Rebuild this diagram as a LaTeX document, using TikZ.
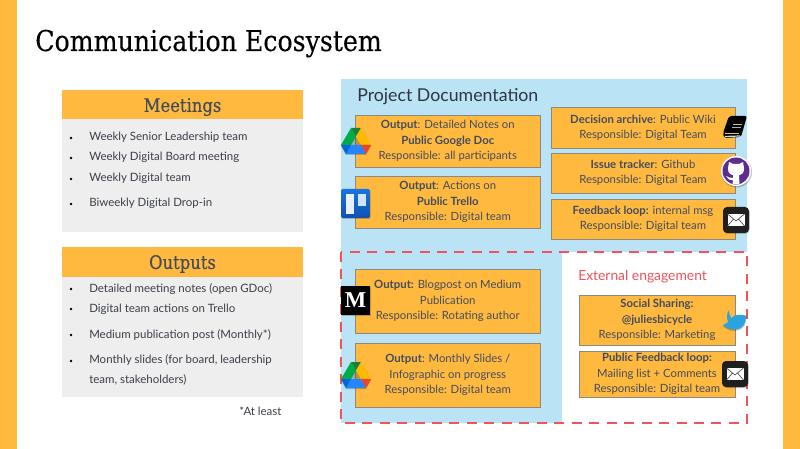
\documentclass[tikz,border=0pt]{standalone}
\usepackage{fontspec}
\setmainfont{Lato}
\newfontfamily\slabfont[FakeStretch=0.88,FakeBold=0.25]{DejaVu Serif}
\newfontfamily\mfont{Liberation Serif}
\definecolor{band}{HTML}{FFB93F}
\definecolor{panel}{HTML}{BAE3F5}
\definecolor{greybg}{HTML}{EEEEEE}
\definecolor{ink}{HTML}{434C5E}
\definecolor{bodyink}{HTML}{3A3F47}
\definecolor{redd}{HTML}{F0535A}
\definecolor{edgeg}{HTML}{8C8A80}
\definecolor{gdA}{HTML}{188038}
\definecolor{gdB}{HTML}{00AC47}
\definecolor{gdC}{HTML}{FFBA00}
\definecolor{gdD}{HTML}{2684FC}
\definecolor{gdE}{HTML}{EA4335}
\definecolor{gdF}{HTML}{0066DA}
\definecolor{trA}{HTML}{1A73E0}
\definecolor{trB}{HTML}{0F52B0}
\definecolor{bookb}{HTML}{7FB8E0}
\definecolor{ghp}{HTML}{5C2D91}
\definecolor{twb}{HTML}{2AA3E0}
\tikzset{
  obox/.style={draw=edgeg,fill=band,line width=0.7pt,inner sep=0pt,align=center,text=ink,
    font=\fontsize{8.5}{11.5}\selectfont},
  head/.style={fill=band,inner sep=0pt,text=ink,text depth=0pt,font=\slabfont\fontsize{14}{16}\selectfont},
  grey/.style={fill=greybg,inner sep=0pt},
  litem/.style={anchor=base west,inner sep=0pt,text=bodyink,font=\fontsize{8.6}{11}\selectfont},
  bul/.style={circle,fill=black,inner sep=0pt,minimum size=2pt},
  icsh/.style={fill=black,opacity=.22},
}
\newcommand{\rbox}[6]{\node[obox,minimum width={(#4-#2)*0.75pt},minimum height={(#5-#3)*0.75pt}] (#1) at ({(#2+#4)/2},{(#3+#5)/2}) {#6};}
\newcommand{\gdrive}[2]{\begin{scope}[shift={(#1,#2)}]
  \fill[icsh] (10,1)--(20,1)--(30,18)--(25,27)--(5,27)--(0,18)--cycle;
  \fill[gdA] (10,0)--(20,0)--(15,8.5)--cycle;
  \fill[gdB] (10,0)--(15,8.5)--(10,17)--(0,17)--cycle;
  \fill[gdC] (20,0)--(30,17)--(20,17)--(15,8.5)--cycle;
  \fill[gdD] (5,26)--(25,26)--(20,17)--(10,17)--cycle;
  \fill[gdE] (20,17)--(30,17)--(25,26)--cycle;
  \fill[gdF] (0,17)--(10,17)--(5,26)--cycle;
\end{scope}}
\newcommand{\mailicon}[2]{\begin{scope}[shift={(#1,#2)}]
  \fill[icsh,rounded corners=3pt] (0.5,1) rectangle (26.5,27);
  \fill[black!88,rounded corners=3pt] (0,0) rectangle (26,26);
  \fill[white] (4.5,7) rectangle (21.5,19);
  \draw[black!70,line width=0.5pt] (4.5,7)--(13,14)--(21.5,7) (4.5,19)--(10.5,12) (21.5,19)--(15.5,12);
\end{scope}}
\begin{document}
\begin{tikzpicture}[x=0.75pt,y=-0.75pt]
\useasboundingbox (0,0) rectangle (800,449);
\fill[white] (0,0) rectangle (800,449);
\fill[band] (0,0) rectangle (17,449);
\fill[band] (783,0) rectangle (800,449);
\node[anchor=base west,inner sep=0pt,text=black,font=\slabfont\fontsize{21.5}{24}\selectfont] (title) at (35,51) {Communication Ecosystem};

% left column
\node[grey,minimum width={241*0.75pt},minimum height={113*0.75pt}] (meetbody) at (182.5,176) {};
\node[head,minimum width={241*0.75pt},minimum height={29*0.75pt}] (meethead) at (182.5,105) {Meetings};
\node[grey,minimum width={241*0.75pt},minimum height={120*0.75pt}] (outbody) at (182.5,337) {};
\node[head,minimum width={241*0.75pt},minimum height={30*0.75pt}] (outhead) at (182.5,262) {Outputs};
\foreach \n/\yy/\t in {m1/137/Weekly Senior Leadership team,m2/157/Weekly Digital Board meeting,m3/177.5/Weekly Digital team,m4/202.5/Biweekly Digital Drop-in,o1/288.5/Detailed meeting notes (open GDoc),o2/308.5/Digital team actions on Trello,o3/334/Medium publication post (Monthly*),o4/359.5/Monthly slides (for board{,} leadership,o5/379.5/team{,} stakeholders)}{
  \node[litem] (\n) at (89,\yy+4) {\t};
}
\foreach \n/\yy in {b1/138,b2/158,b3/179,b4/204,b5/289,b6/309,b7/335,b8/361}{
  \node[bul] (\n) at (71,\yy) {};
}
\node[litem,anchor=base west] (atleast) at (239,415) {*At least};

% panel
\fill[panel] (341,79) rectangle (747,252);
\fill[panel] (341,252) rectangle (561.5,423);
\node[anchor=base west,inner sep=0pt,text=ink!70!black,font=\fontsize{13.3}{16}\selectfont] (pd) at (357,102) {Project Documentation};
\node[anchor=base west,inner sep=0pt,text=redd,font=\fontsize{10.4}{13}\selectfont] (ext) at (578,280) {External engagement};

\rbox{a}{355.5}{115}{540}{167}{\textbf{Output}: Detailed Notes on\\\textbf{Public Google Doc}\\Responsible: all participants}
\rbox{b}{355.5}{176}{540}{228}{\textbf{Output}: Actions on\\\textbf{Public Trello}\\Responsible: Digital team}
\rbox{c}{551}{107}{735}{148}{\textbf{Decision archive}: Public Wiki\\Responsible: Digital Team}
\rbox{d}{551}{153}{735}{193}{\textbf{Issue tracker}: Github\\Responsible: Digital Team}
\rbox{e}{551}{199}{735}{239}{\textbf{Feedback loop:} internal msg\\Responsible: Digital team}
\rbox{f}{355.5}{269}{540}{333}{\textbf{Output:} Blogpost on Medium\\Publication\\Responsible: Rotating author}
\rbox{g}{355.5}{343}{540}{407}{\textbf{Output}: Monthly Slides /\\Infographic on progress\\Responsible: Digital team}
\rbox{h}{579}{295}{735}{345}{\textbf{Social Sharing:}\\\textbf{@juliesbicycle}\\Responsible: Marketing}
\rbox{i}{579}{351}{735}{397}{\textbf{Public Feedback loop:}\\Mailing list + Comments\\Responsible: Digital team}

\draw[redd,line width=1.7pt,dash pattern=on 7.5pt off 5.6pt] (341,252) rectangle (747,423);

% icons
\gdrive{341}{128}
\gdrive{341}{362}
% trello
\begin{scope}[shift={(341,189)}]
  \fill[icsh,rounded corners=1.5pt] (0.5,1) rectangle (29.5,30);
  \shade[top color=trA,bottom color=trB,rounded corners=1.5pt] (0,0) rectangle (29,29);
  \fill[white!90!trA] (5,5) rectangle (13,25);
  \fill[white!80!trA] (17,5) rectangle (25,17);
\end{scope}
% book
\begin{scope}[shift={(723,116)}]
  \fill[black,rounded corners=1.5pt] (6,0)--(24,0)--(18,21)--(1,22)--(0,17)--cycle;
  \draw[panel,line width=0.9pt] (2,20.5)--(17,20);
  \draw[band,line width=1pt] (10,8.5)--(19,8.5);
  \draw[bookb,line width=1pt] (9,11.5)--(18,11.5);
  \draw[band,line width=0.8pt] (2,17.5)--(16,17.5);
\end{scope}
% github
\begin{scope}[shift={(736,171)}]
  \fill[icsh] (0.5,1) circle (15.5);
  \fill[white] (0,0) circle (15);
  \fill[ghp] (0,0) circle (13.5);
  \fill[white] (-7,-9)--(-3,-7)--(3,-7)--(7,-9)--(8,-3) .. controls (8.5,2) and (5,4) .. (3,4)
     -- (3.5,13)--(-3.5,13)--(-3,9) .. controls (-7,9.5) and (-7.5,8) .. (-10,5)
     .. controls (-7,6) and (-6,7.5) .. (-3,7) -- (-3,4) .. controls (-5,4) and (-8.5,2) .. (-8,-3) --cycle;
\end{scope}
\mailicon{723}{207}
% medium
\begin{scope}[shift={(341,286)}]
  \fill[icsh] (0.5,1) rectangle (29.5,30);
  \fill[black] (0,0) rectangle (29,29);
\end{scope}
\node[inner sep=0pt,text=white,font=\mfont\bfseries\fontsize{17}{17}\selectfont] (medm) at (355.5,300.5) {M};
% twitter bird
\begin{scope}[shift={(550,250)},x=0.25pt,y=-0.25pt]
  \fill[icsh,shift={(1,4)}] (590,197) .. controls (580,196) and (570,192) .. (555,196) .. controls (547,200) and (545,204) .. (545,206) .. controls (540,200) and (537,190) .. (535,180) .. controls (530,195) and (530,208) .. (535,215) .. controls (530,220) and (525,223) .. (518,225) .. controls (530,238) and (555,243) .. (570,235) .. controls (583,228) and (587,215) .. (587,205) -- cycle;
  \fill[twb] (590,197) .. controls (580,196) and (570,192) .. (555,196) .. controls (547,200) and (545,204) .. (545,206) .. controls (540,200) and (537,190) .. (535,180) .. controls (530,195) and (530,208) .. (535,215) .. controls (530,220) and (525,223) .. (518,225) .. controls (530,238) and (555,243) .. (570,235) .. controls (583,228) and (587,215) .. (587,205) -- cycle;
\end{scope}
\mailicon{722}{361}
\end{tikzpicture}
\end{document}
